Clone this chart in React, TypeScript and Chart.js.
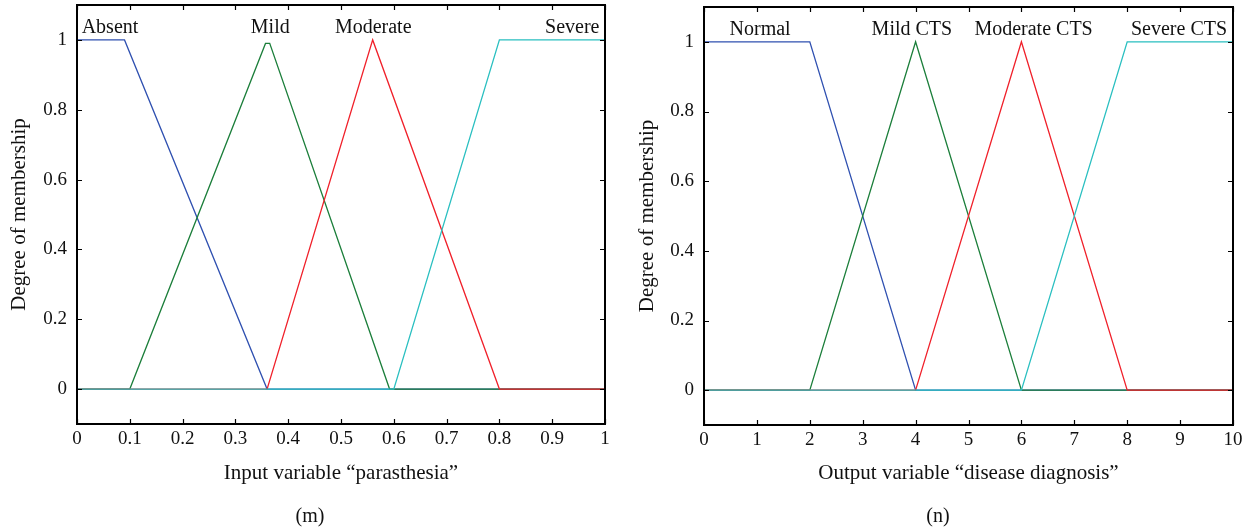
import { useEffect, useRef } from "react";
import { Chart, registerables } from "chart.js";

Chart.register(...registerables);

const FONT = "'Liberation Serif', 'Times New Roman', serif";

// ---------- shared y axis ----------
const yTicks = [0, 0.2, 0.4, 0.6, 0.8, 1];
const yTickLabels = ["0", "0.2", "0.4", "0.6", "0.8", "1"];
const yMin = -0.1;
const yMax = 1.1;
const yTitle = "Degree of membership";

// ---------- left chart (m): input "parasthesia" ----------
const leftXTicks = [0, 0.1, 0.2, 0.3, 0.4, 0.5, 0.6, 0.7, 0.8, 0.9, 1];
const leftXTickLabels = ["0", "0.1", "0.2", "0.3", "0.4", "0.5", "0.6", "0.7", "0.8", "0.9", "1"];
const leftXTitle = "Input variable \u201Cparasthesia\u201D";
const leftCaption = "(m)";

const absentX = [0, 0.09, 0.36, 1];
const absentY = [1, 1, 0, 0];
const mildX = [0, 0.1, 0.357, 0.365, 0.592, 1];
const mildY = [0, 0, 0.99, 0.99, 0, 0];
const moderateX = [0, 0.36, 0.56, 0.8, 1];
const moderateY = [0, 0, 1, 0, 0];
const severeX = [0, 0.6, 0.8, 1];
const severeY = [0, 0, 1, 1];

const leftTermNames = ["Absent", "Mild", "Moderate", "Severe"];
const leftTermX = [0.0625, 0.366, 0.561, 0.938];
const termY = 1.02;

// ---------- right chart (n): output "disease diagnosis" ----------
const rightXTicks = [0, 1, 2, 3, 4, 5, 6, 7, 8, 9, 10];
const rightXTickLabels = ["0", "1", "2", "3", "4", "5", "6", "7", "8", "9", "10"];
const rightXTitle = "Output variable \u201Cdisease diagnosis\u201D";
const rightCaption = "(n)";

const normalX = [0, 2, 4, 10];
const normalY = [1, 1, 0, 0];
const mildCtsX = [0, 2, 4, 6, 10];
const mildCtsY = [0, 0, 1, 0, 0];
const moderateCtsX = [0, 4, 6, 8, 10];
const moderateCtsY = [0, 0, 1, 0, 0];
const severeCtsX = [0, 6, 8, 10];
const severeCtsY = [0, 0, 1, 1];

const rightTermNames = ["Normal", "Mild CTS", "Moderate CTS", "Severe CTS"];
const rightTermX = [1.06, 3.93, 6.23, 8.98];

const COLORS = {
  blue: "#2f50b0",
  green: "#1b7e3a",
  red: "#f0202a",
  cyan: "#29bfc0",
};

const pts = (xs: number[], ys: number[]) => xs.map((x, i) => ({ x, y: ys[i] }));

const framePlugin = {
  id: "frame",
  afterDatasetsDraw(chart: any) {
    const { ctx, chartArea: a, scales } = chart;
    ctx.save();
    ctx.strokeStyle = "#000";
    ctx.lineWidth = 1.2;
    const tl = 5;
    ctx.beginPath();
    for (const t of scales.x.ticks) {
      const px = Math.round(scales.x.getPixelForValue(t.value)) + 0.5;
      ctx.moveTo(px, a.bottom);
      ctx.lineTo(px, a.bottom - tl);
      ctx.moveTo(px, a.top);
      ctx.lineTo(px, a.top + tl);
    }
    for (const t of scales.y.ticks) {
      const py = Math.round(scales.y.getPixelForValue(t.value)) + 0.5;
      ctx.moveTo(a.left, py);
      ctx.lineTo(a.left + tl, py);
      ctx.moveTo(a.right, py);
      ctx.lineTo(a.right - tl, py);
    }
    ctx.stroke();
    ctx.lineWidth = 2;
    ctx.strokeRect(a.left, a.top, a.right - a.left, a.bottom - a.top);
    ctx.restore();
  },
};

const makeTermPlugin = (names: string[], xs: number[]) => ({
  id: "terms",
  afterDatasetsDraw(chart: any) {
    const { ctx, scales } = chart;
    ctx.save();
    ctx.font = `20px ${FONT}`;
    ctx.fillStyle = "#111";
    ctx.textAlign = "center";
    ctx.textBaseline = "alphabetic";
    names.forEach((n, i) => {
      ctx.fillText(n, scales.x.getPixelForValue(xs[i]), scales.y.getPixelForValue(termY));
    });
    ctx.restore();
  },
});

type Cfg = {
  xTicks: number[];
  xTickLabels: string[];
  xMax: number;
  xTitle: string;
  series: { xs: number[]; ys: number[]; color: string }[];
  termNames: string[];
  termX: number[];
  yAxisWidth: number;
  yTitlePad: number;
  padTop: number;
  padRight: number;
  xAxisHeight: number;
};

function MembershipChart({ cfg }: { cfg: Cfg }) {
  const ref = useRef<HTMLCanvasElement | null>(null);
  useEffect(() => {
    if (!ref.current) return;
    const chart = new Chart(ref.current, {
      type: "line",
      data: {
        datasets: cfg.series.map((s) => ({
          data: pts(s.xs, s.ys),
          borderColor: s.color,
          borderWidth: 1.3,
          pointRadius: 0,
          fill: false,
          tension: 0,
        })),
      },
      options: {
        animation: false,
        responsive: false,
        devicePixelRatio: 1,
        layout: { padding: { left: 0, top: cfg.padTop, right: cfg.padRight, bottom: 0 } },
        plugins: { legend: { display: false }, tooltip: { enabled: false } },
        scales: {
          x: {
            type: "linear",
            min: 0,
            max: cfg.xMax,
            grid: { display: false, drawTicks: false },
            border: { display: false },
            afterBuildTicks: (scale: any) => {
              scale.ticks = cfg.xTicks.map((v) => ({ value: v }));
            },
            afterFit: (scale: any) => {
              scale.height = cfg.xAxisHeight;
              scale.paddingLeft = 0;
              scale.paddingRight = 0;
            },
            ticks: {
              autoSkip: false,
              maxRotation: 0,
              padding: 4,
              color: "#111",
              font: { family: FONT, size: 19 },
              callback: (_v: any, i: number) => cfg.xTickLabels[i],
            },
            title: {
              display: true,
              text: cfg.xTitle,
              color: "#111",
              font: { family: FONT, size: 21 },
              padding: { top: 0, bottom: 41 },
            },
          },
          y: {
            type: "linear",
            min: yMin,
            max: yMax,
            grid: { display: false, drawTicks: false },
            border: { display: false },
            afterBuildTicks: (scale: any) => {
              scale.ticks = yTicks.map((v) => ({ value: v }));
            },
            afterFit: (scale: any) => {
              scale.width = cfg.yAxisWidth;
              scale.paddingTop = 0;
              scale.paddingBottom = 0;
            },
            ticks: {
              padding: 10,
              color: "#111",
              font: { family: FONT, size: 19 },
              callback: (_v: any, i: number) => yTickLabels[i],
            },
            title: {
              display: true,
              text: yTitle,
              color: "#111",
              font: { family: FONT, size: 21 },
              padding: { top: cfg.yTitlePad, bottom: 0 },
            },
          },
        },
      },
      plugins: [framePlugin, makeTermPlugin(cfg.termNames, cfg.termX)],
    } as any);
    return () => chart.destroy();
  }, [cfg]);
  return <canvas ref={ref} width={625} height={527} />;
}

const leftCfg: Cfg = {
  xTicks: leftXTicks,
  xTickLabels: leftXTickLabels,
  xMax: 1,
  xTitle: leftXTitle,
  // first dataset is drawn on top
  series: [
    { xs: severeX, ys: severeY, color: COLORS.cyan },
    { xs: moderateX, ys: moderateY, color: COLORS.red },
    { xs: mildX, ys: mildY, color: COLORS.green },
    { xs: absentX, ys: absentY, color: COLORS.blue },
  ],
  termNames: leftTermNames,
  termX: leftTermX,
  yAxisWidth: 77,
  yTitlePad: 7,
  padTop: 5,
  padRight: 20,
  xAxisHeight: 103,
};

const rightCfg: Cfg = {
  xTicks: rightXTicks,
  xTickLabels: rightXTickLabels,
  xMax: 10,
  xTitle: rightXTitle,
  series: [
    { xs: severeCtsX, ys: severeCtsY, color: COLORS.cyan },
    { xs: moderateCtsX, ys: moderateCtsY, color: COLORS.red },
    { xs: mildCtsX, ys: mildCtsY, color: COLORS.green },
    { xs: normalX, ys: normalY, color: COLORS.blue },
  ],
  termNames: rightTermNames,
  termX: rightTermX,
  yAxisWidth: 79,
  yTitlePad: 10,
  padTop: 7,
  padRight: 17,
  xAxisHeight: 102,
};

const captionStyle = (cx: number): React.CSSProperties => ({
  position: "absolute",
  top: 503,
  left: cx - 40,
  width: 80,
  textAlign: "center",
  fontFamily: FONT,
  fontSize: 20,
  lineHeight: "24px",
  color: "#111",
});

export default function App() {
  return (
    <div style={{ position: "absolute", left: 0, top: 0, width: 1250, height: 527, background: "#fff" }}>
      <div style={{ position: "absolute", left: 0, top: 0, width: 625, height: 527 }}>
        <MembershipChart cfg={leftCfg} />
      </div>
      <div style={{ position: "absolute", left: 625, top: 0, width: 625, height: 527 }}>
        <MembershipChart cfg={rightCfg} />
      </div>
      <div style={captionStyle(310)}>{leftCaption}</div>
      <div style={captionStyle(938)}>{rightCaption}</div>
    </div>
  );
}
